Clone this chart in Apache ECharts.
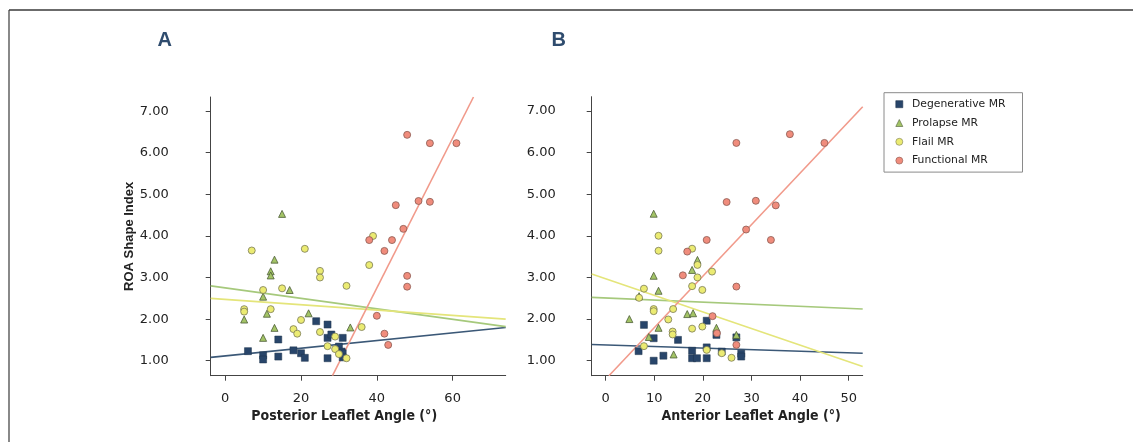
<!DOCTYPE html>
<html>
<head>
<meta charset="utf-8">
<script src="https://cdn.jsdelivr.net/npm/echarts@6/dist/echarts.min.js"></script>
<style>html,body{margin:0;padding:0;background:#fff}#c{width:1133px;height:442px}</style>
</head>
<body>
<div id="c"></div>
<script>
// ---- data (x = leaflet angle in degrees, y = ROA shape index) ----
const groupNames = ['Degenerative MR', 'Prolapse MR', 'Flail MR', 'Functional MR'];
const xTicksA = [0, 20, 40, 60];
const xTicksB = [0, 10, 20, 30, 40, 50];
const yTicks = [1, 2, 3, 4, 5, 6, 7];

// Panel A: posterior leaflet angle
const degA = [[6,1.23],[10,1.13],[10,1.03],[14,1.51],[14,1.1],[18,1.25],[20,1.18],[21,1.07],[24,1.95],[27,1.87],[27,1.55],[27,1.06],[28,1.63],[30,1.34],[30.7,1.22],[31,1.55],[31,1.18],[31,1.08]];
const proA = [[15,4.53],[13,3.43],[12,3.15],[12,3.05],[17,2.7],[10,2.54],[11,2.13],[5,1.99],[22,2.14],[13,1.79],[10,1.55],[33,1.8]];
const flailA = [[7,3.65],[21,3.69],[25,3.16],[25,3.0],[15,2.74],[10,2.7],[5,2.24],[5,2.18],[12,2.24],[20,1.98],[18,1.76],[19,1.65],[25,1.69],[32,2.8],[38,3.3],[39,4.0],[36,1.81],[27,1.35],[29,1.58],[29,1.28],[30,1.16],[32,1.06]];
const funcA = [[48,6.43],[54,6.23],[61,6.23],[51,4.84],[54,4.82],[45,4.74],[47,4.17],[44,3.9],[38,3.9],[42,3.64],[48,3.04],[48,2.78],[40,2.08],[42,1.65],[43,1.38]];
const fitDegA = [[-3.83,1.08],[74,1.80]];
const fitProA = [[-3.83,2.80],[74,1.82]];
const fitFlailA = [[-3.83,2.50],[74,2.00]];
const fitFuncA = [[28.3,0.64],[65.5,7.34]];

// Panel B: anterior leaflet angle
const degB = [[6.8,1.23],[7.9,1.86],[9.9,1.54],[9.9,1.0],[11.9,1.12],[14.9,1.5],[17.8,1.24],[17.8,1.06],[18.8,1.06],[20.8,1.96],[20.8,1.32],[20.8,1.06],[22.8,1.62],[23.9,1.22],[26.9,1.56],[27.9,1.17],[27.9,1.1]];
const proB = [[9.9,4.53],[9.9,3.04],[10.9,2.68],[4.9,2.0],[6.9,2.55],[10.9,1.79],[8.9,1.57],[14,1.15],[16.8,2.12],[18,2.14],[17.8,3.18],[18.9,3.42],[22.8,1.79],[26.9,1.62]];
const flailB = [[10.9,4.0],[10.9,3.64],[17.8,3.69],[18.9,3.3],[21.9,3.14],[18.9,3.0],[17.8,2.79],[19.9,2.7],[7.9,2.73],[6.9,2.51],[9.9,2.24],[9.9,2.19],[13.9,2.24],[12.9,1.99],[13.8,1.7],[13.8,1.63],[17.8,1.77],[19.9,1.82],[7.9,1.35],[20.8,1.26],[23.9,1.18],[25.9,1.07]];
const funcB = [[26.9,6.23],[37.9,6.44],[45,6.23],[24.9,4.81],[30.9,4.84],[35,4.73],[28.9,4.15],[20.8,3.9],[34,3.9],[16.8,3.62],[15.9,3.05],[26.9,2.78],[22,2.07],[22.9,1.66],[26.9,1.38]];
const fitDegB = [[-2.84,1.39],[52.87,1.18]];
const fitProB = [[-2.84,2.52],[52.87,2.24]];
const fitFlailB = [[-2.84,3.08],[52.87,0.86]];
const fitFuncB = [[0.7,0.64],[52.87,7.10]];

// ---- styles ----
const sym = {
  'Degenerative MR': {symbol:'rect', size:7, color:'#28456a', border:'#1e344d', bw:0.5, line:'#3b5877'},
  'Prolapse MR': {symbol:'triangle', size:7, color:'#a3c466', border:'#4d5d37', bw:0.8, line:'#a6c97c'},
  'Flail MR': {symbol:'circle', size:7, color:'#ebeb72', border:'#7a7a55', bw:0.8, line:'#e4e57a'},
  'Functional MR': {symbol:'circle', size:7, color:'#f08c7c', border:'#8a5a52', bw:0.8, line:'#f19a8b'}
};
const tickFont = '"DejaVu Sans", sans-serif';
const titleFont = '"Liberation Sans Narrow", "DejaVu Sans Condensed", "Liberation Sans", sans-serif';

function scatter(name, data, idx) {
  const s = sym[name];
  return {type:'scatter', name, data, xAxisIndex:idx, yAxisIndex:idx, symbol:s.symbol, symbolSize:s.size, z:3,
    itemStyle:{color:s.color, borderColor:s.border, borderWidth:s.bw, opacity:1}, emphasis:{disabled:true}};
}
function fit(name, data, idx) {
  const s = sym[name];
  return {type:'line', name:name+' fit', data, xAxisIndex:idx, yAxisIndex:idx, showSymbol:false, symbol:'none', z:2,
    lineStyle:{color:s.line, width:1.6}, clip:true, emphasis:{disabled:true}};
}
function xAxis(idx, min, max, ticks, name, pad, gridIndex) {
  return {type:'value', gridIndex, min, max, name, nameLocation:'middle', nameGap:34,
    nameTextStyle:{fontFamily:titleFont, fontWeight:'bold', fontSize:14, color:'#222', padding:pad},
    axisLine:{show:true, onZero:false, lineStyle:{color:'#444', width:1}},
    axisTick:{show:true, length:5, customValues:ticks, lineStyle:{color:'#444'}},
    axisLabel:{customValues:ticks, margin:16, fontFamily:tickFont, fontSize:13, color:'#222'},
    splitLine:{show:false}};
}
function yAxis(gridIndex, name, margin) {
  return {type:'value', gridIndex, min:0.64, max:7.34, name, nameLocation:'middle', nameGap:71,
    nameTextStyle:{fontFamily:'"Liberation Sans", Arial, sans-serif', fontWeight:'bold', fontSize:13, color:'#222'},
    axisLine:{show:true, onZero:false, lineStyle:{color:'#444', width:1}},
    axisTick:{show:true, length:5, customValues:yTicks, lineStyle:{color:'#444'}},
    axisLabel:{customValues:yTicks, margin, fontFamily:tickFont, fontSize:13, color:'#222', formatter:v=>v.toFixed(2)},
    splitLine:{show:false}};
}

const letterStyle = {fontFamily:'"Liberation Sans", Arial, sans-serif', fontWeight:'bold', fontSize:20, color:'#2f4c6e'};
const chart = echarts.init(document.getElementById('c'), null, {renderer:'canvas'});
chart.setOption({
  animation:false,
  backgroundColor:'#fff',
  title:[
    {text:'A', left:157.5, top:30, padding:0, textStyle:letterStyle},
    {text:'B', left:551.5, top:30, padding:0, textStyle:letterStyle}
  ],
  grid:[
    {left:210.7, top:97, width:295, height:278.7},
    {left:591.7, top:96.7, width:271, height:279}
  ],
  xAxis:[
    xAxis(0, -3.83, 74, xTicksA, 'Posterior Leaflet Angle (°)', [0,28,0,0], 0),
    xAxis(1, -2.84, 52.87, xTicksB, 'Anterior Leaflet Angle (°)', [0,0,0,48], 1)
  ],
  yAxis:[ yAxis(0, 'ROA Shape Index', 42), yAxis(1, '', 36) ],
  legend:{
    orient:'vertical', left:884, top:92.7,
    padding:[5.5,17,5.5,11.5],
    borderColor:'#8a8a8a', borderWidth:1, backgroundColor:'#fff',
    itemWidth:7, itemHeight:7, itemGap:6.8,
    textStyle:{fontFamily:tickFont, fontSize:10.8, color:'#222', lineHeight:12, padding:[0,0,0,4.2]},
    selectedMode:false,
    data: groupNames.map(n => ({name:n, icon:sym[n].symbol, itemStyle:{color:sym[n].color, borderColor:sym[n].border, borderWidth:0.6}}))
  },
  graphic:[
    {type:'line', shape:{x1:9, y1:10, x2:1133, y2:10}, style:{stroke:'#3a3a3a', lineWidth:1.5}, silent:true},
    {type:'line', shape:{x1:9, y1:10, x2:9, y2:442}, style:{stroke:'#3a3a3a', lineWidth:1.2}, silent:true}
  ],
  series:[
    fit('Degenerative MR', fitDegA, 0), fit('Prolapse MR', fitProA, 0), fit('Flail MR', fitFlailA, 0), fit('Functional MR', fitFuncA, 0),
    scatter('Degenerative MR', degA, 0), scatter('Prolapse MR', proA, 0), scatter('Flail MR', flailA, 0), scatter('Functional MR', funcA, 0),
    fit('Degenerative MR', fitDegB, 1), fit('Prolapse MR', fitProB, 1), fit('Flail MR', fitFlailB, 1), fit('Functional MR', fitFuncB, 1),
    scatter('Degenerative MR', degB, 1), scatter('Prolapse MR', proB, 1), scatter('Flail MR', flailB, 1), scatter('Functional MR', funcB, 1)
  ]
});
</script>
</body>
</html>
